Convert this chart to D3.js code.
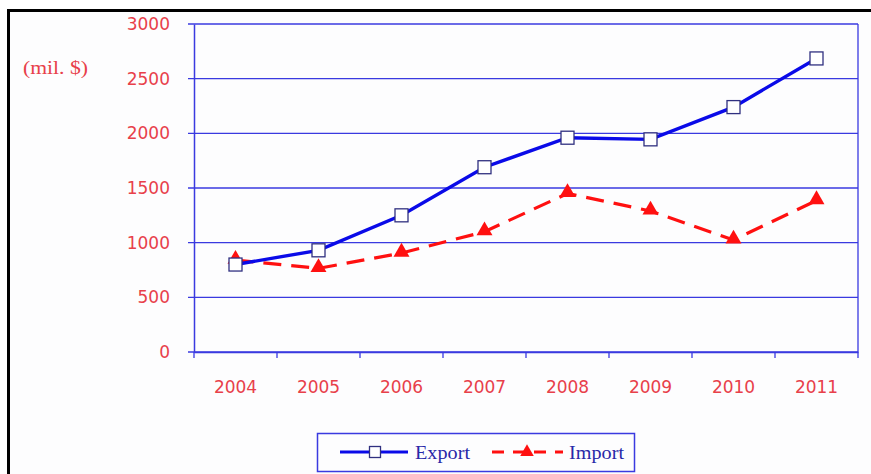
<!DOCTYPE html>
<html>
<head>
<meta charset="utf-8">
<script src="https://cdn.jsdelivr.net/npm/d3@7/dist/d3.min.js"></script>
<style>
  html, body { margin: 0; padding: 0; background: #ffffff; }
  svg { display: block; }
</style>
</head>
<body>
<svg id="chart" width="871" height="474"></svg>
<script>
// Yearly trade values, million USD
const years = ["2004", "2005", "2006", "2007", "2008", "2009", "2010", "2011"];
const exportValues = [800, 930, 1250, 1690, 1960, 1945, 2240, 2685];
const importValues = [840, 765, 905, 1100, 1450, 1290, 1025, 1385];
const yTicks = [0, 500, 1000, 1500, 2000, 2500, 3000];
const seriesNames = ["Export", "Import"];
const unitLabel = "(mil. $)";

const svg = d3.select("#chart");
const W = 871, H = 474;
const m = { left: 194, top: 24, right: 858, bottom: 352 };

const blue = "#3a3ae0";
const red = "#e8404a";

// outer frame
svg.append("rect")
  .attr("x", 8.5).attr("y", 10.5)
  .attr("width", W + 20).attr("height", H + 20)
  .attr("fill", "#fdfdfe").attr("stroke", "#000").attr("stroke-width", 3);

const x = d3.scaleBand().domain(years).range([m.left, m.right]).padding(0);
const y = d3.scaleLinear().domain([0, 3000]).range([m.bottom, m.top]);

// horizontal gridlines with left tick stubs
const grid = svg.append("g");
grid.selectAll("line").data(yTicks).join("line")
  .attr("x1", m.left - 6).attr("x2", m.right)
  .attr("y1", d => y(d)).attr("y2", d => y(d))
  .attr("stroke", blue).attr("stroke-width", 1.3);

// right border of plot
svg.append("line")
  .attr("x1", m.right).attr("x2", m.right)
  .attr("y1", m.top).attr("y2", m.bottom)
  .attr("stroke", blue).attr("stroke-width", 1.3);

// y axis
const yAxis = svg.append("g")
  .attr("transform", `translate(${m.left},0)`)
  .call(d3.axisLeft(y).tickValues(yTicks).tickSize(0).tickPadding(24).tickFormat(d3.format("d")));
yAxis.select(".domain").attr("stroke", blue).attr("stroke-width", 1.5);
yAxis.selectAll("text")
  .attr("fill", red).attr("font-family", "DejaVu Sans").attr("font-size", 17);

// x axis with ticks at band boundaries
const xAxis = svg.append("g")
  .attr("transform", `translate(0,${m.bottom})`)
  .call(d3.axisBottom(x).tickSize(0).tickPadding(29));
xAxis.select(".domain").attr("stroke", blue).attr("stroke-width", 1.5);
xAxis.selectAll("text")
  .attr("fill", red).attr("font-family", "DejaVu Sans").attr("font-size", 17);
const bounds = years.map(d => x(d)).concat([m.right]);
svg.append("g").selectAll("line").data(bounds).join("line")
  .attr("x1", d => d).attr("x2", d => d)
  .attr("y1", m.bottom).attr("y2", m.bottom + 6)
  .attr("stroke", blue).attr("stroke-width", 1.3);

// unit label
svg.append("text")
  .attr("x", 23).attr("y", 74)
  .attr("fill", red).attr("font-family", "Liberation Serif").attr("font-size", 19)
  .attr("textLength", 65).attr("lengthAdjust", "spacingAndGlyphs")
  .text(unitLabel);

const cx = d => x(d) + x.bandwidth() / 2;
const line = d3.line().x((d, i) => cx(years[i])).y(d => y(d));

// import series (dashed red, triangles)
svg.append("path").datum(importValues)
  .attr("d", line).attr("fill", "none")
  .attr("stroke", "#ff1010").attr("stroke-width", 3.2)
  .attr("stroke-dasharray", "18,10");
const tri = d3.symbol().type(d3.symbolTriangle).size(110);
svg.append("g").selectAll("path").data(importValues).join("path")
  .attr("transform", (d, i) => `translate(${cx(years[i])},${y(d) - 1})`)
  .attr("d", tri).attr("fill", "#ff1010");

// export series (solid blue, open squares)
svg.append("path").datum(exportValues)
  .attr("d", line).attr("fill", "none")
  .attr("stroke", "#0a0ae8").attr("stroke-width", 3.4);
svg.append("g").selectAll("rect").data(exportValues).join("rect")
  .attr("x", (d, i) => cx(years[i]) - 6.5).attr("y", d => y(d) - 6.5)
  .attr("width", 13).attr("height", 13)
  .attr("fill", "#ffffff").attr("stroke", "#303080").attr("stroke-width", 1.3);

// legend
const lg = svg.append("g");
lg.append("rect")
  .attr("x", 317.5).attr("y", 433.5).attr("width", 317).attr("height", 38)
  .attr("fill", "#fdfdfe").attr("stroke", blue).attr("stroke-width", 1.5);
lg.append("line").attr("x1", 340).attr("x2", 408).attr("y1", 452).attr("y2", 452)
  .attr("stroke", "#0a0ae8").attr("stroke-width", 3);
lg.append("rect").attr("x", 369.5).attr("y", 446.5).attr("width", 11).attr("height", 11)
  .attr("fill", "#fff").attr("stroke", "#303080").attr("stroke-width", 1.3);
lg.append("line").attr("x1", 492).attr("x2", 563).attr("y1", 452).attr("y2", 452)
  .attr("stroke", "#ff1010").attr("stroke-width", 3).attr("stroke-dasharray", "12,9");
lg.append("path").attr("transform", "translate(527,452)")
  .attr("d", d3.symbol().type(d3.symbolTriangle).size(80)).attr("fill", "#ff1010");
const legendX = [415, 569];
lg.selectAll("text.lbl").data(seriesNames).join("text")
  .attr("class", "lbl")
  .attr("x", (d, i) => legendX[i]).attr("y", 459)
  .attr("fill", "#2828a8").attr("font-family", "Liberation Serif").attr("font-size", 18)
  .attr("textLength", 55).attr("lengthAdjust", "spacingAndGlyphs")
  .text(d => d);
</script>
</body>
</html>
